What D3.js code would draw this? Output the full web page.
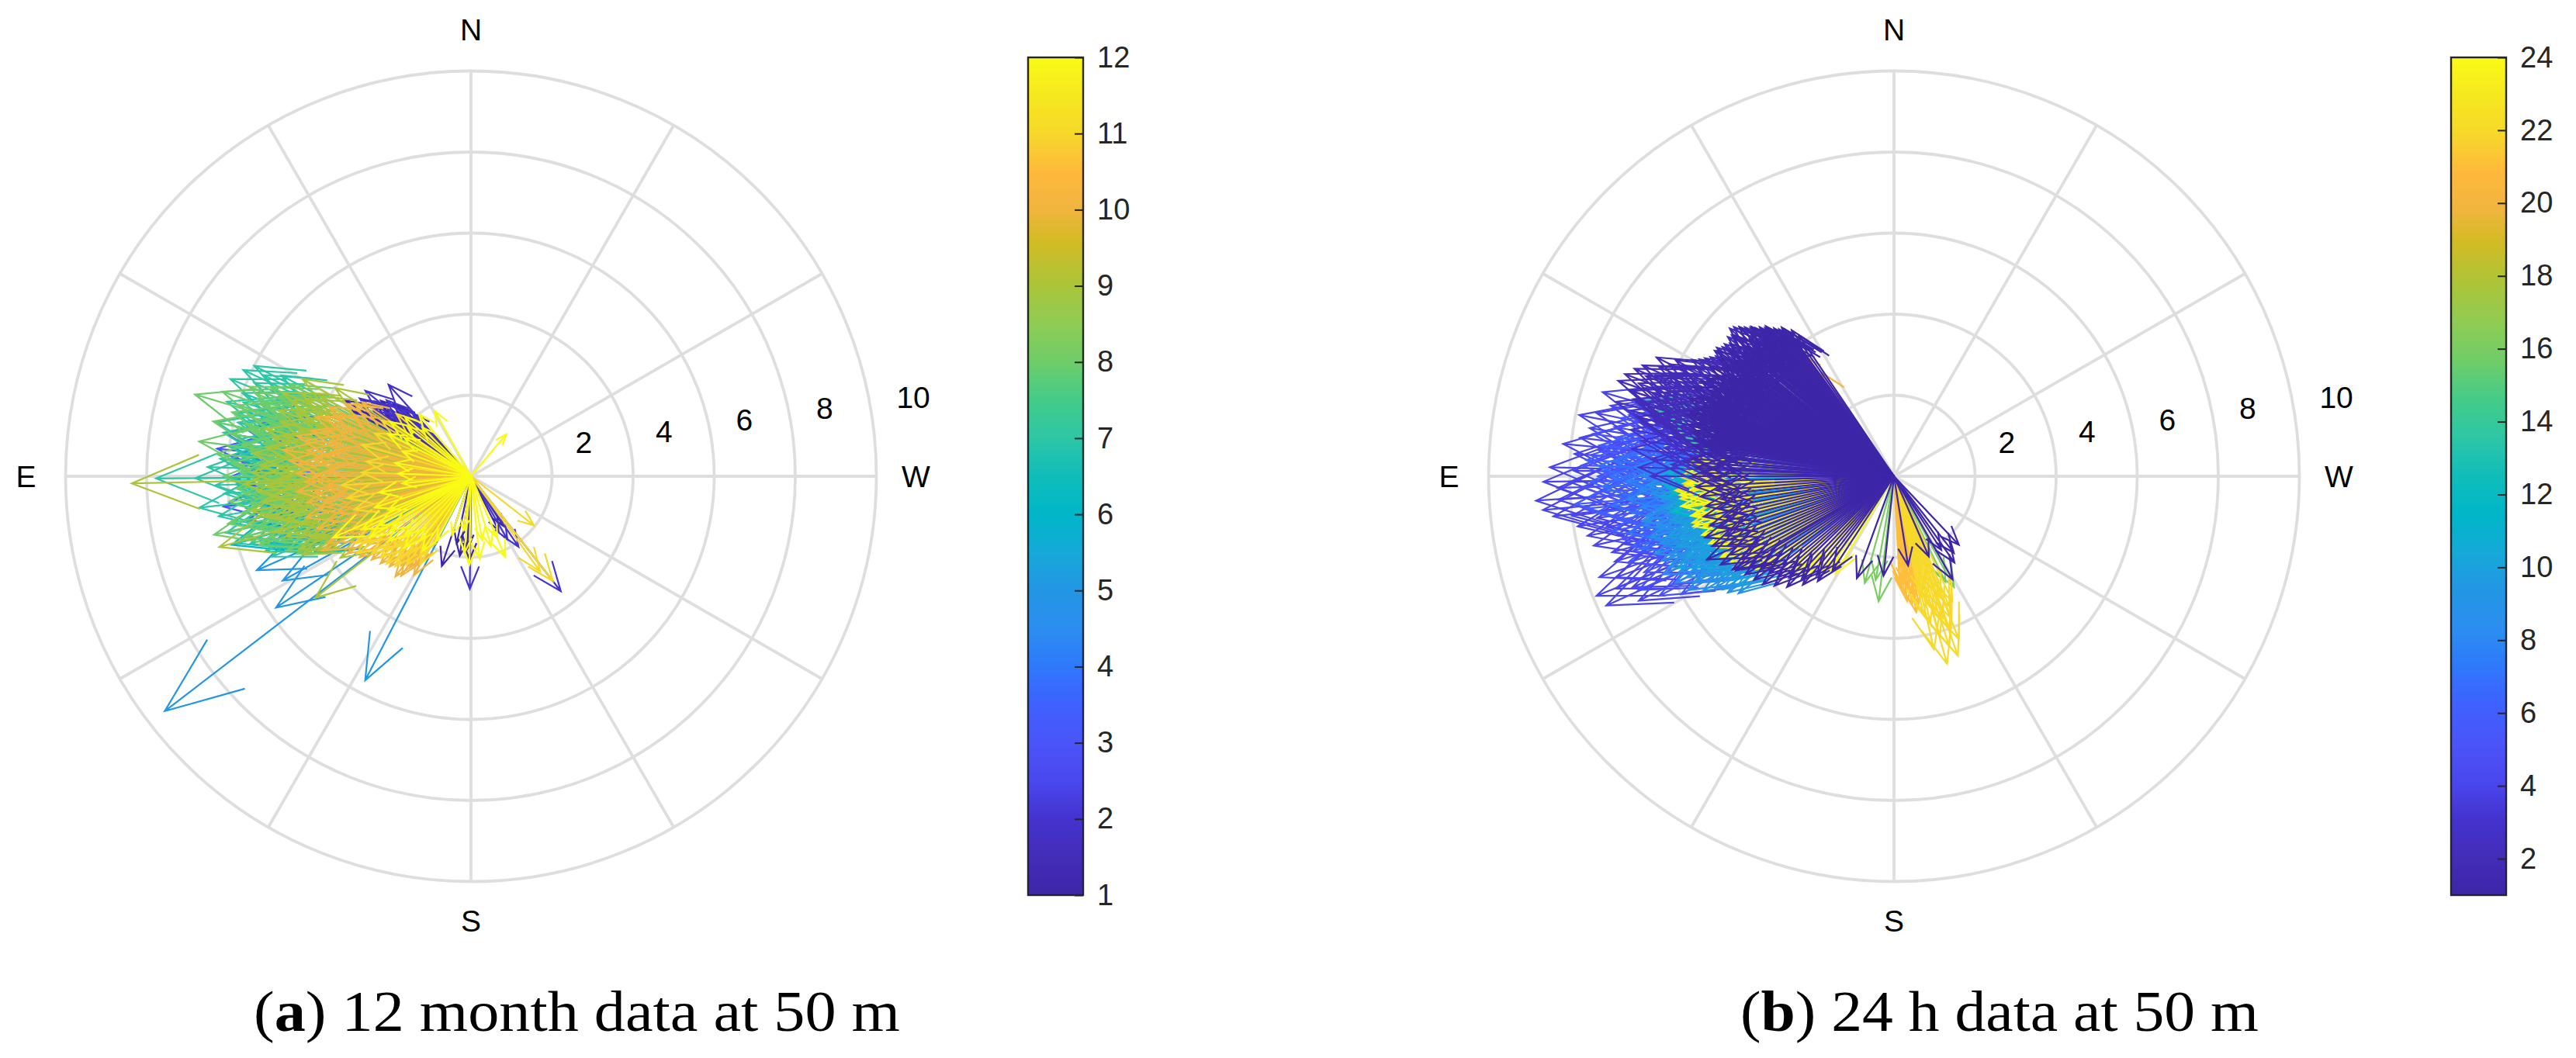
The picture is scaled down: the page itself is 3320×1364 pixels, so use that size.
<!DOCTYPE html>
<html>
<head>
<meta charset="utf-8">
<style>
	html, body { margin: 0; padding: 0; background: #fff; }
	text { font-family: "Liberation Sans", sans-serif; }
	.caption { font-family: "Liberation Serif", serif; font-size: 75px; fill: #000; }
</style>
</head>
<body>
<div id="chart-area"></div>
<script src="https://cdn.jsdelivr.net/npm/d3@7"></script>
<script>
// every arrow is [direction in degrees from N through E, speed]
var compassLabels = [['N', 0], ['E', 90], ['S', 180], ['W', 270]];
var speedTicks = [2, 4, 6, 8, 10];
var spokeAngles = [0, 30, 60, 90, 120, 150];
var monthTicks = [1, 2, 3, 4, 5, 6, 7, 8, 9, 10, 11, 12];
var hourTicks = [2, 4, 6, 8, 10, 12, 14, 16, 18, 20, 22, 24];

// parula as seen on the colour bars
var barStops = [0, .045, .091, .136, .182, .227, .273, .318, .364, .409, .455, .5, .545, .591, .636, .682, .727, .782, .818, .864, .909, .955, 1];
var barColors = ['#3e26a8', '#432cb8', '#4433cf', '#4a47ef', '#4a55f9', '#4060ff', '#2f78fb', '#2c8ef0', '#2396e4', '#15a9d8', '#00b6c8', '#10bdbb', '#2dc6a6', '#43cb89', '#6ecd6a', '#8fcc55', '#aac53a', '#d4bb24', '#f0b53f', '#ffb93c', '#f6d82a', '#f6e820', '#f9fb15'];

var month1 = [[59,3.63],[57,3.2],[55,3.3],[52,3.0],[50,2.9],[47,2.6],[45,2.3],[54,2.6],[58,2.8],[61,3.3],[49,2.4],[62,2.9],[162,2.33],[172,1.98],[179,2.06],[177,1.8],[213,1.46],[207,1.5],[168,1.7]];
var month2 = [[42,3.04],[55,3.35],[53,3.1],[51,3.35],[48,2.8],[56,2.9],[46,2.4],[50,2.2],[179.4,2.78],[218,3.6],[60,3.0],[63,2.7],[214,2.1],[210,1.8],[43,2.1]];
var month3 = [[80,6.15],[83.8,6.3],[97,6.15],[78,5.7],[76,5.4],[82,5.6],[85,5.9],[88,5.4],[92,5.5],[95,5.7],[99,5.3],[101,5.6],[86,6.0],[81,5.1],[90,5.9],[94,4.9],[98,4.7],[103,4.8],[74,5.0],[72,4.6],[84,4.8],[105,4.4]];
var month4 = [[84,5.6],[79,5.3],[88,5.7],[92,5.3],[96,5.6],[100,5.0],[104,5.1],[75,5.2],[107,4.6],[110,4.4],[71,5.0],[82,4.7],[94,4.7],[98,4.3],[112,3.9],[87,5.0]];
var month5 = [[127.5,9.52],[152.6,5.67],[124,5.8],[113.7,5.77],[119,5.31],[109,5.25],[108,4.9],[112,4.4],[106,4.6],[104,4.2],[116,4.3],[110,3.9],[118,4.0],[101,3.9],[103,3.5],[107,3.3]];
var month6 = [[106,6.14],[77,5.75],[89,5.7],[74,5.8],[80,5.5],[83,5.9],[86,5.6],[92,5.8],[95,5.4],[98,5.6],[101,5.7],[104,5.4],[108,5.3],[111,5.0],[70,5.6],[68,5.2],[73,5.2],[78,5.0],[88,5.1],[93,4.9],[97,4.8],[103,4.7],[113,4.6],[116,4.3]];
var month7 = [[68,6.4],[66.7,5.82],[90.4,6.8],[90.4,7.77],[96.6,6.75],[64,5.7],[62,5.3],[70,6.0],[72,5.9],[75,6.0],[77,5.9],[80,6.2],[83,6.0],[86,6.2],[88,6.5],[92,6.3],[94,6.1],[99,6.3],[101,6.0],[103,6.2],[105,5.8],[107,5.7],[110,5.4],[66,5.0],[69,5.2],[74,5.3],[79,5.2],[84,5.4],[89,5.6],[95,5.3],[100,5.2],[104,5.1],[109,4.8],[63,6.0],[65,6.2],[71,5.5],[73,6.3],[76,5.6],[78,6.4],[81,5.8],[85,5.7],[87,6.0],[91,5.9],[93,5.7],[97,5.8],[102,5.6],[106,6.0],[108,5.4],[112,5.3]];
var month8 = [[73.5,7.1],[78,6.5],[82.7,6.76],[102.8,6.5],[71.2,6.48],[68,5.9],[66,5.4],[70,5.6],[75,6.1],[77,5.7],[80,6.0],[85,6.3],[87,5.9],[90,6.1],[93,5.8],[96,6.0],[99,5.7],[101,6.1],[105,5.8],[108,5.5],[63,5.0],[65,4.7],[72,5.0],[76,4.9],[81,5.2],[84,5.0],[88,5.3],[91,5.1],[95,5.2],[98,5.0],[103,5.0],[106,4.8],[68,4.6],[74,4.4],[79,4.5],[83,4.4],[86,4.6],[90,4.5],[94,4.4],[97,4.3],[101,4.4],[104,4.2],[110,4.6],[67,5.1],[69,5.7],[71,5.4],[73,6.0],[74.5,5.3],[78.5,5.5],[82,5.7],[83.5,5.5],[86.5,5.2],[89,5.7],[92,5.3],[94.5,5.6],[97,5.5],[100,5.3],[102,5.6],[104,5.4],[107,5.2],[109,5.0],[112,4.9],[114,4.7]];
var month9 = [[91.2,8.37],[105.7,6.45],[66,5.1],[63.8,4.68],[128,4.87],[115,4.59],[60,4.8],[62,4.2],[65,4.5],[68,4.1],[70,4.6],[72,4.0],[75,4.4],[78,4.7],[80,4.2],[83,4.6],[85,4.1],[88,4.6],[90,4.0],[93,5.0],[95,4.4],[97,5.2],[100,4.5],[102,5.0],[105,4.3],[108,4.8],[111,4.2],[113,4.6],[57,4.0],[92,5.6],[99,5.5],[67,4.8],[71,5.0],[74,4.9],[77,5.2],[79,5.0],[82,5.1],[84,5.4],[87,5.2],[89,5.4],[91,4.8],[94,5.3],[96,4.9],[98,4.6],[101,5.2],[103,4.7],[106,5.0],[109,4.4],[112,4.0],[116,4.2],[118,3.9],[122,3.8]];
var month10 = [[82,4.68],[116.6,4.1],[143,3.1],[150,2.82],[55.7,3.25],[58,3.4],[60,3.6],[63,3.3],[66,3.7],[68,3.9],[71,3.4],[73,3.8],[76,3.6],[78,4.2],[80,3.5],[84,3.9],[86,4.3],[88,3.5],[90,3.9],[92,4.1],[94,3.6],[96,3.9],[98,3.3],[100,3.7],[102,3.9],[105,3.4],[107,3.7],[110,3.3],[113,3.6],[116,3.0],[120,3.2],[124,3.0],[128,2.9],[132,2.7],[136,2.9],[140,2.6],[146,2.7],[64,3.9],[69,4.1],[74,4.1],[77,4.4],[81,4.1],[85,4.5],[89,4.3],[95,4.3],[99,4.1],[104,4.2],[109,4.0],[115,3.9],[122,3.6],[126,3.4],[130,3.2],[134,3.1],[138,3.0],[142,2.8],[145,3.0],[148,2.6]];
var month11 = [[50,2.4],[58,2.6],[66,2.6],[74,2.8],[82,2.6],[88,2.7],[94,3.2],[100,3.1],[106,3.0],[114,3.2],[122,3.1],[130,2.8],[134,2.5],[138,2.7],[142,2.4],[147,2.3],[150,2.5],[232,1.97],[218,3.28],[216,2.9],[120,3.3],[124,3.4],[128,3.1],[132,3.0],[136,3.0],[140,2.9],[144,2.7]];
var month12 = [[320,1.35],[40,2.0],[29,1.84],[45,1.7],[63,2.3],[48,2.2],[52,2.0],[56,2.4],[60,1.9],[70,1.8],[80,1.9],[88,1.8],[96,1.7],[100,2.3],[108,2.5],[112,2.2],[114,3.72],[116,3.0],[118,2.6],[121,2.9],[124,2.4],[128,2.6],[132,2.2],[137,2.4],[142,2.0],[147,2.2],[152,1.8],[179,2.19],[203,2.17],[190,1.6],[203,1.65],[172,1.35],[162,1.52],[186,2.05],[196,1.8],[175,1.9]];

var hour1 = [[36,4.4],[37,4.6],[38,4.6],[39,4.7],[40,4.7],[40.5,4.87],[41,4.5],[42,4.9],[43,4.8],[43.6,5.1],[44,4.4],[45,5.0],[46,5.3],[47,4.7],[48,5.1],[48.7,5.29],[49.5,4.6],[50.2,4.83],[51,5.2],[52,4.7],[53,5.0],[54,4.5],[54.6,5.34],[55.3,4.9],[56,5.2],[57,4.6],[58,5.0],[59,5.3],[60,4.7],[60.7,5.1],[61.5,4.5],[62.2,5.2],[63,4.8],[63.8,5.3],[64.5,4.6],[65.2,5.0],[66,5.4],[67,4.7],[67.8,5.2],[68.5,4.9],[69.3,5.4],[70,4.6],[70.8,5.1],[71.6,4.8],[72.4,5.3],[73,4.5],[74,5.0],[75,4.7],[76,5.2],[77,4.6],[78,5.0],[79,4.4],[80,4.8],[82,4.9],[83.5,4.6],[85,5.0],[86,4.4],[87.5,4.9],[89,4.7],[90,5.0],[91.5,4.5],[93,4.9],[94.5,4.4],[96,4.8],[97.5,4.3],[99,4.7],[100.5,4.4],[102,4.8],[103.5,4.3],[105,4.7],[106.5,4.5],[108,4.9],[109.5,4.4],[111,4.8],[112.5,4.4],[114,5.05],[115.5,4.5],[117,4.8],[118.5,4.3],[120,4.6],[120.8,4.54],[122,4.2],[123.5,4.4],[125,4.0],[126.5,4.3],[128,3.9],[129.5,4.2],[131,3.8],[132.5,4.0],[134,3.6],[136,3.8],[138,3.4],[140,3.5],[142,3.1],[144,3.2],[146.9,2.78],[160,2.68],[174,2.47],[189,2.23],[203.5,2.16],[209.6,2.93],[212.7,2.16],[218,2.4],[223.4,2.33],[215,2.6],[34,4.2],[35,4.4],[36.5,4.5],[37.5,4.3],[38.5,4.6],[39.5,4.4],[41.5,4.8],[42.5,4.6],[44.5,4.7],[45.5,4.5],[46.5,4.9],[47.5,4.4],[49,4.9],[51.5,4.5],[52.5,5.1],[53.5,4.8],[55.8,4.6],[56.6,4.9],[57.5,4.4],[58.5,4.8],[59.5,4.5],[60.3,4.9],[61,4.8],[62.7,4.6],[63.4,5.0],[64,4.7],[65.7,4.8],[66.5,4.6],[67.3,5.0],[68.9,4.6],[69.7,5.0],[70.4,4.8],[71.2,5.2],[72,4.6],[72.8,5.0],[73.5,5.3],[74.5,4.7],[75.5,5.0],[76.5,4.5],[77.5,5.1],[78.5,4.6],[79.5,5.0],[80.5,4.6],[81.3,5.0]];
var hour2 = [[63.4,6.55],[66.2,6.78],[69.2,7.1],[70.9,7.2],[67.5,6.93],[60,5.75],[58,5.5],[62,6.1],[65,6.4],[68,6.6],[72,6.8],[74,6.5],[76,6.2],[71,6.3],[56,5.3],[54,5.4],[52,5.3],[50,5.35],[48,5.45],[46,5.3],[44,5.1],[42,4.95],[40,4.75],[38,4.5],[73,6.1],[75,5.9],[78,5.7],[80,5.5],[64,5.8],[61,5.6],[59,5.6],[57,5.4],[69,5.9],[66,5.7],[72,5.7],[77,5.3],[83,5.3],[86,5.2],[41,4.85],[43,5.0],[45,5.2],[47,5.4],[49,5.3],[51,5.2],[53,5.3],[55,5.4],[62.5,5.9],[63.5,6.2],[65.5,6.1],[67,6.4],[70,6.7],[73.5,6.7],[77,6.5]];
var hour3 = [[70,6.3],[72,6.9],[74,6.6],[76,6.7],[78,6.4],[80,6.6],[82,6.3],[84,6.5],[86,6.0],[88,6.3],[75,7.1],[77,6.1],[79,5.9],[81,5.8],[83,5.7],[85,5.6],[90,6.0],[87,5.5],[67,6.2]];
var hour4 = [[73.9,7.48],[79,7.91],[84.4,8.2],[76,7.2],[78,7.5],[81,7.6],[83,7.8],[86,7.9],[88.5,8.49],[90.9,8.65],[93.9,8.85],[95.5,8.7],[96.7,8.46],[92,8.3],[94,8.3],[89,7.9],[91,8.0],[97,8.0],[99,7.9],[101,7.7],[103,7.6],[105.1,7.2],[108.9,7.68],[111.9,7.91],[114.2,7.78],[110,7.3],[112,7.4],[107,7.2],[116,7.0],[113,7.0],[104,6.9],[102,7.0],[100,7.2],[98,7.4],[85,7.3],[87,7.0],[82,6.9],[80,7.0],[77,6.7]];
var hour5 = [[74,6.7],[78,6.9],[82,7.5],[84,7.1],[86,7.5],[88,7.7],[90,7.3],[92,7.7],[94,7.5],[96,7.7],[98,7.0],[100,6.6],[103,6.9],[106,6.7],[108,6.9],[111,6.6],[114,6.9],[117,6.5],[109,6.2],[113,6.1],[116,6.1],[119,6.0],[105,6.2],[101,6.2],[97,6.6],[93,6.9],[89,6.8],[85,6.6],[81,6.2],[76,6.3]];
var hour6 = [[80,6.1],[83,6.2],[86,6.8],[88,6.3],[90,6.7],[92,6.2],[94,6.8],[96,6.3],[98,6.2],[100,5.9],[102,6.4],[104,5.8],[107,6.0],[110,5.7],[82,6.9],[84,7.3],[87,7.6],[89,7.2],[91,7.5],[93,7.2],[95,7.9],[97,7.4],[99,6.9],[101,7.1],[103,6.4],[105,6.7]];
var hour7 = [[84,6.0],[87,5.9],[89,6.2],[91,5.8],[93,6.2],[95,5.9],[97,6.0],[99,5.7],[101,5.6],[103,6.1],[105,5.5],[108,5.5],[85,6.5],[87,6.9],[88,7.3],[90,7.0],[92,7.2],[94,6.6],[96,7.0],[98,6.5],[100,6.3],[102,6.7],[104,6.3],[106,6.5]];
var hour8 = [[86,5.7],[88,5.8],[90,5.5],[92,5.7],[94,5.5],[96,5.6],[98,5.4],[100,5.5],[102,5.3],[104,5.6],[106,5.3],[109,5.8],[112,5.7],[115,5.5],[118,5.5],[88,6.4],[90,6.2],[91,6.6],[93,6.3],[95,6.6],[97,6.3],[99,6.2],[101,6.3],[103,6.0],[105,6.1],[107,5.9],[110,6.1],[113,6.2],[116,6.0],[119,5.8]];
var hour9 = [[100,6.3],[102,6.0],[104,6.2],[106,6.0],[108,6.2],[110,5.9],[112,6.0],[114,5.8],[116,5.7],[118,5.6],[120.3,5.15],[123.5,5.06],[121,5.5],[119,5.0],[113,5.3],[110,5.3],[90,5.9],[92,6.1],[94,6.0],[96,5.8],[98,5.9],[105,5.6],[107,5.7],[111,5.6],[115,5.3],[117,5.4],[122,5.2],[125,5.0],[127,4.8]];
var hour10 = [[92,5.4],[95,5.3],[97,5.5],[99,5.1],[101,5.6],[103,5.2],[105,5.8],[107,5.2],[109,5.0],[111,5.5],[113,5.8],[115,5.0],[117,5.2],[120,4.9],[122.5,4.8],[125,4.7],[88,5.6],[90,5.8],[93,5.6],[95,5.8],[98,5.7],[100,5.4],[102,5.5],[104,5.4],[106,5.5],[108,5.6],[110,5.1],[112,5.2],[114,5.4]];
var hour11 = [[88,5.3],[90,5.1],[92,5.7],[94,5.2],[96,5.0],[98,5.3],[100,4.9],[103,4.8],[87,5.5],[89,5.6],[91,5.4],[93,5.5],[95,5.6],[97,5.4],[99,5.6]];
var hour12 = [[84,5.0],[86,5.2],[88,4.9],[90,5.4],[92,5.2],[94,5.5],[96,5.2],[99,5.5],[102,5.0],[106,4.9]];
var hour13 = [[73,5.9],[75,5.8],[77,5.5],[79,5.3],[81,5.0],[83,4.9],[85,4.8],[87,4.9]];
var hour14 = [[72.9,6.38],[74.8,6.35],[71,6.0],[74,6.0],[76,5.9],[78,5.6],[80,5.3],[82,5.1],[70,5.5]];
var hour16 = [[173,3.11],[164.7,2.73],[208.4,3.11],[206,2.9],[170,2.6],[90,4.0]];
var hour20 = [[35,3.13],[39.2,4.08],[42,3.6],[45,3.9],[50,3.5],[92,4.6]];
var hour21 = [[183,2.6],[185,2.9],[186,3.1],[187,2.8],[188,3.2],[189.3,3.4],[190,3.0],[191,3.2],[192,2.8],[193,3.0],[184,2.7],[195,2.9]];
var hour22 = [[195.8,4.81],[193,4.38],[199.6,4.7],[201.7,4.33],[196,4.1],[198,4.4],[200,4.0],[202,3.8],[194,3.7],[197,3.5],[199,3.7],[203,3.5],[205,3.4],[192,3.5],[201,3.2],[195,3.1],[88,5.2],[90,5.3],[86,5.1],[92,5.2],[94,5.35]];
var hour23 = [[93.7,5.4],[96,5.3],[98.5,5.2],[101,5.0],[103,5.1],[105,4.9],[108,4.76],[110,4.68],[113,4.5],[116,4.4],[119,4.3],[122,4.2]];
var hour24 = [[129.7,3.65],[134.3,3.38],[139.5,3.18],[126,3.9],[132,3.5],[137,3.3],[142,3.0],[145,2.9],[147,2.7],[149,2.8],[124,4.1],[121,4.4],[118,4.6],[115,4.7],[112,4.7],[110,4.85],[107,4.95],[104,5.1],[101,5.1],[98,5.3],[95,5.3],[92,5.1],[89,5.1],[86,5.09],[84.7,4.86],[87,4.9],[90,4.7],[93,4.8],[96,4.6],[99,4.7],[102,4.5],[105,4.4]];

// draw order follows the reference: later series sit on top
var monthSeries = [[1, month1], [2, month2], [3, month3], [4, month4], [5, month5], [6, month6], [7, month7], [8, month8], [9, month9], [10, month10], [11, month11], [12, month12]];
var hourSeries = [[4, hour4], [5, hour5], [6, hour6], [7, hour7], [8, hour8], [9, hour9], [10, hour10], [11, hour11], [12, hour12], [13, hour13], [14, hour14], [16, hour16], [20, hour20], [21, hour21], [22, hour22], [23, hour23], [24, hour24], [3, hour3], [2, hour2], [1, hour1]];

var radius = 522.5;
var centerY = 614;
var barTop = 74;
var barBottom = 1154;
var barWidth = 71;

var svg = d3.select('#chart-area')
	.append('svg')
	.attr('width', 3320)
	.attr('height', 1364)
	.style('display', 'block');

var barColor = d3.scaleLinear().domain(barStops).range(barColors);

var gradient = svg.append('defs').append('linearGradient')
	.attr('id', 'parula')
	.attr('x1', 0).attr('y1', 1)
	.attr('x2', 0).attr('y2', 0);
barStops.forEach((s, i) => {
	gradient.append('stop')
		.attr('offset', s)
		.attr('stop-color', barColors[i]);
});

function arrowPath(d, x, y) {
	var a = d[0] * Math.PI / 180;
	var u = -d[1] * Math.sin(a);
	var v = d[1] * Math.cos(a);
	// same head as matlab compass: back to 0.8 of length, wings at 0.08
	var line = d3.line().x(p => x(p[0])).y(p => y(p[1]));
	return line([
		[0, 0],
		[u, v],
		[.8 * u - .08 * v, .8 * v + .08 * u],
		[u, v],
		[.8 * u + .08 * v, .8 * v - .08 * u]
	]);
}

function drawRose(centerX, series, domainMax) {
	var x = d3.scaleLinear().domain([-10, 10]).range([centerX - radius, centerX + radius]);
	var y = d3.scaleLinear().domain([-10, 10]).range([centerY + radius, centerY - radius]);
	var r = d3.scaleLinear().domain([0, 10]).range([0, radius]);
	var color = d3.scaleLinear().domain([1, domainMax]).range([0, 1]);

	var g = svg.append('g');
	var grid = g.append('g')
		.attr('fill', 'none')
		.attr('stroke', '#dedede')
		.attr('stroke-width', 3.8);

	speedTicks.forEach(s => {
		grid.append('circle')
			.attr('cx', x(0))
			.attr('cy', y(0))
			.attr('r', r(s));
	});
	spokeAngles.forEach(a => {
		var t = a * Math.PI / 180;
		grid.append('line')
			.attr('x1', x(10 * Math.sin(t)))
			.attr('y1', y(10 * Math.cos(t)))
			.attr('x2', x(-10 * Math.sin(t)))
			.attr('y2', y(-10 * Math.cos(t)));
	});

	series.forEach(s => {
		g.append('g')
			.attr('fill', 'none')
			.attr('stroke', barColor(color(s[0])))
			.attr('stroke-width', 2.2)
			.attr('stroke-linejoin', 'miter')
			.selectAll('path')
			.data(s[1])
			.enter().append('path')
			.attr('d', d => arrowPath(d, x, y));
	});

	// radial labels run along a line slightly above the W spoke, left aligned
	speedTicks.forEach(s => {
		g.append('text')
			.attr('x', x(0) + r(s) * Math.cos(8 * Math.PI / 180) + 31)
			.attr('y', y(0) - r(s) * Math.sin(8 * Math.PI / 180) - 29)
			.attr('dy', '.35em')
			.attr('text-anchor', 'start')
			.attr('font-size', '39px')
			.text(s);
	});

	compassLabels.forEach(c => {
		var t = c[1] * Math.PI / 180;
		g.append('text')
			.attr('x', x(0) - (radius + 51) * Math.sin(t))
			.attr('y', y(0) - (c[1] == 0 ? radius + 53 : (c[1] == 180 ? -(radius + 51) : 0)))
			.attr('dy', '.35em')
			.attr('text-anchor', 'middle')
			.attr('font-size', '39px')
			.text(c[0]);
	});
}

function drawBar(left, domainMax, ticks) {
	var scale = d3.scaleLinear().domain([1, domainMax]).range([barBottom, barTop]);
	var g = svg.append('g');

	g.append('rect')
		.attr('x', left)
		.attr('y', barTop)
		.attr('width', barWidth)
		.attr('height', barBottom - barTop)
		.attr('fill', 'url(#parula)');

	var axis = g.append('g')
		.attr('transform', `translate(${left + barWidth}, 0)`)
		.call(d3.axisRight(scale).tickValues(ticks).tickFormat(d3.format('d')).tickSize(-11).tickPadding(18));
	axis.select('.domain').remove();
	axis.selectAll('line').attr('stroke', '#262626').attr('stroke-width', 2);
	axis.selectAll('text')
		.attr('fill', '#262626')
		.attr('font-size', '38px')
		.style('font-family', '"Liberation Sans", sans-serif');

	g.append('rect')
		.attr('x', left)
		.attr('y', barTop)
		.attr('width', barWidth)
		.attr('height', barBottom - barTop)
		.attr('fill', 'none')
		.attr('stroke', '#262626')
		.attr('stroke-width', 2.4);
}

function drawCaption(x, letter, rest, width) {
	var t = svg.append('text')
		.attr('class', 'caption')
		.attr('x', x)
		.attr('y', 1329)
		.attr('textLength', width)
		.attr('lengthAdjust', 'spacingAndGlyphs');
	t.append('tspan').text('(');
	t.append('tspan').attr('font-weight', 'bold').text(letter);
	t.append('tspan').text(') ' + rest);
}

drawRose(607, monthSeries, 12);
drawRose(2441, hourSeries, 24);
drawBar(1325, 12, monthTicks);
drawBar(3159, 24, hourTicks);
drawCaption(327, 'a', '12 month data at 50 m', 833);
drawCaption(2243, 'b', '24 h data at 50 m', 668);
</script>
</body>
</html>
